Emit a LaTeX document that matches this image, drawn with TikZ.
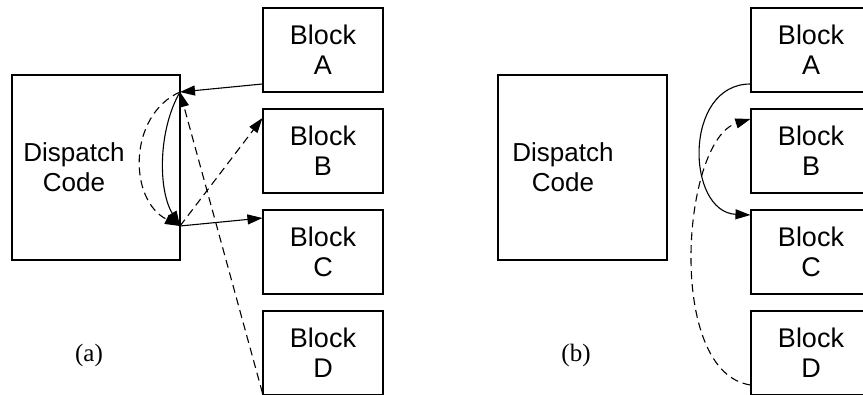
\documentclass[tikz,border=0pt]{standalone}
\usepackage{fontspec}
\setmainfont{Liberation Serif}
\setsansfont{Liberation Sans}
\usetikzlibrary{arrows.meta}

\begin{document}
\begin{tikzpicture}[x=1pt,y=-1pt,line width=1.1pt,
  box/.style={draw,rectangle,inner sep=0pt},
  blk/.style={box,minimum width=120pt,minimum height=84pt,align=center,
    font=\sffamily\fontsize{27}{30}\selectfont},
  txt/.style={align=center,font=\sffamily\fontsize{26}{30}\selectfont},
  flow/.style={-{Triangle[length=15pt,width=10pt]}},
  flowd/.style={flow,dash pattern=on 8pt off 5pt}]
  \useasboundingbox (0,0) rectangle (863,394);
  \clip (0,0) rectangle (863,394);

  % dispatch code, both halves
  \node[box,minimum width=168pt,minimum height=185pt] (dl) at (96,167.5) {};
  \node[txt] (dlt) at (74,167) {Dispatch\\Code};
  \node[box,minimum width=169pt,minimum height=185pt] (dr) at (582.5,167.5) {};
  \node[txt] (drt) at (563,167) {Dispatch\\Code};

  % the four blocks
  \foreach \n/\y in {A/50,B/151,C/252,D/353}{
    \node[blk] (l\n) at (323,\y) {Block\\\n};
    \node[blk] (r\n) at (811,\y) {Block\\\n};}

  \node[font=\fontsize{25}{28}\selectfont] (la) at (89,355) {(a)};
  \node[font=\fontsize{25}{28}\selectfont] (lb) at (576,355) {(b)};

  % (a): every block jumps back into the dispatch code
  \coordinate (lin) at (180,92);
  \coordinate (lout) at (180,226);
  \draw[flow] ([yshift=-34pt]lA.west) -- (lin);
  \draw[flow] (lin) .. controls (158,130) and (158,190) .. (lout);
  \draw[flow] (lout) -- ([yshift=34pt]lC.west);
  \draw[flowd] ([yshift=-40pt]lD.west) -- (lin);
  \draw[flowd] (lin) .. controls (128,115) and (128,200) .. (lout);
  \draw[flowd] (lout) -- ([yshift=33pt]lB.west);

  % (b): blocks jump straight to the next one
  \draw[flow] ([yshift=-34pt]rA.west) .. controls (683,84) and (686,212) .. ([yshift=37pt]rC.west);
  \draw[flowd] ([yshift=-32pt]rD.west) .. controls (665,372) and (682,140) .. ([yshift=32pt]rB.west);
\end{tikzpicture}
\end{document}
